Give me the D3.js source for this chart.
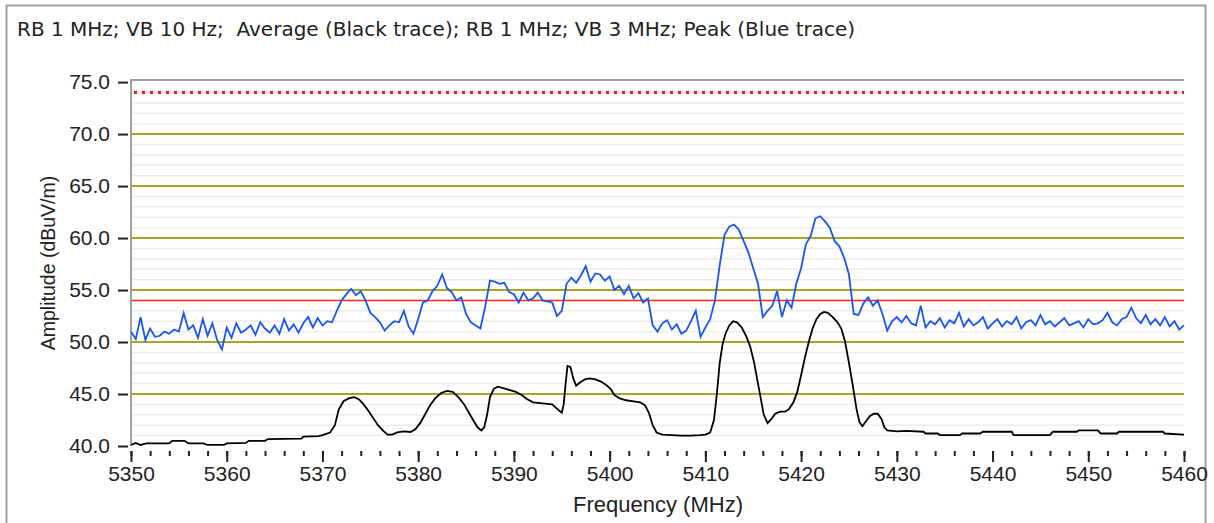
<!DOCTYPE html>
<html>
<head>
<meta charset="utf-8">
<script src="https://cdn.jsdelivr.net/npm/d3@7"></script>
<style>
  body { margin: 0; background: #fff; }
  text { font-family: Tahoma, "Liberation Sans", Arial, sans-serif; fill: #222; }
</style>
</head>
<body>
<div id="chart"></div>
<script>
const title = "RB 1 MHz; VB 10 Hz;  Average (Black trace); RB 1 MHz; VB 3 MHz; Peak (Blue trace)";
const yTicks = [40, 45, 50, 55, 60, 65, 70, 75];
const xTicks = [5350, 5360, 5370, 5380, 5390, 5400, 5410, 5420, 5430, 5440, 5450, 5460];
const limitPeak = 74;
const limitAvg = 54;

// average trace (black), [MHz, dBuV/m]
const avgTrace = [[5350,40.1],[5350.5,40.3],[5351,40.1],[5351.6,40.25],[5354,40.25],[5354.3,40.5],[5355.6,40.5],[5356,40.25],
  [5357.6,40.25],[5358,40.1],[5359.7,40.1],[5360,40.25],[5362,40.3],[5362.3,40.5],[5364,40.5],[5364.3,40.67],[5367.8,40.7],
  [5368,40.9],[5369.6,40.95],[5370,41.05],[5370.8,41.3],[5371.3,42],[5371.7,43.5],[5372.2,44.3],[5372.8,44.6],[5373.3,44.7],
  [5373.8,44.5],[5374.3,44],[5374.8,43.4],[5375.3,42.7],[5375.8,42],[5376.3,41.5],[5376.8,41.1],[5377.3,41.1],[5377.8,41.3],
  [5378.5,41.4],[5379.2,41.35],[5379.7,41.6],[5380.2,42.2],[5380.7,43],[5381.3,44],[5381.8,44.6],[5382.4,45.1],[5383,45.3],
  [5383.6,45.2],[5384.2,44.7],[5384.8,44],[5385.3,43.2],[5385.8,42.4],[5386.2,41.8],[5386.6,41.5],[5386.9,41.8],[5387.2,43],
  [5387.5,44.7],[5387.9,45.5],[5388.3,45.7],[5388.8,45.6],[5389.5,45.4],[5390.2,45.2],[5390.8,44.9],[5391.4,44.5],[5392,44.2],
  [5393,44.1],[5394,44.0],[5394.6,43.5],[5395,43.2],[5395.2,44],[5395.4,46],[5395.6,47.7],[5395.9,47.6],[5396.2,46.5],
  [5396.5,45.8],[5396.9,46.1],[5397.4,46.4],[5397.9,46.5],[5398.5,46.4],[5399.1,46.2],[5399.6,45.9],[5400.1,45.5],[5400.5,44.9],
  [5401,44.6],[5401.7,44.4],[5402.5,44.3],[5403.2,44.2],[5403.7,43.9],[5404.1,43.2],[5404.5,42],[5404.9,41.3],[5405.5,41.1],
  [5406.5,41.05],[5407.5,41.0],[5408.5,41.0],[5409.5,41.05],[5410,41.1],[5410.5,41.3],[5410.9,42.5],[5411.2,45],[5411.5,48],
  [5411.8,49.8],[5412.1,50.8],[5412.5,51.6],[5412.9,52],[5413.3,51.9],[5413.8,51.4],[5414.3,50.5],[5414.7,49.5],[5415.1,48],
  [5415.5,46],[5415.8,44.5],[5416.1,43],[5416.5,42.2],[5416.9,42.6],[5417.3,43.1],[5417.8,43.3],[5418.3,43.3],[5418.7,43.5],
  [5419.2,44.2],[5419.6,45.2],[5420,46.8],[5420.4,48.5],[5420.8,50],[5421.2,51.3],[5421.6,52.2],[5422,52.7],[5422.4,52.9],
  [5422.8,52.8],[5423.3,52.4],[5423.8,51.9],[5424.2,51.3],[5424.6,50],[5425,48],[5425.4,45.8],[5425.8,43.5],[5426.1,42.3],
  [5426.4,41.9],[5426.8,42.4],[5427.2,42.9],[5427.6,43.1],[5428,43.1],[5428.4,42.6],[5428.7,41.8],[5429,41.5],[5430,41.4],
  [5431,41.45],[5432.8,41.37],[5433,41.2],[5434.3,41.2],[5434.5,41.05],[5436.6,41.05],[5436.8,41.2],[5438.7,41.2],[5439,41.37],
  [5442,41.37],[5442.2,41.05],[5446,41.05],[5446.3,41.37],[5448.8,41.37],[5449,41.5],[5451,41.5],[5451.3,41.2],[5453,41.2],
  [5453.2,41.37],[5457.8,41.37],[5458,41.2],[5460,41.1]];

// peak trace (blue), one value every 0.5 MHz from 5350
const peakStart = 5350, peakStep = 0.5;
const peakTrace = [
  51.0,50.3, 52.4,50.2, 51.3,50.5, 50.6,51.0, 50.8,51.2, 51.0,52.8, 51.2,51.6, 50.4,52.2, 50.6,51.8, 50.2,49.3,
  51.4,50.4, 51.8,50.9, 51.2,51.6, 50.7,51.9, 51.3,50.9, 51.6,50.8, 52.2,51.1, 51.7,50.9, 51.8,52.4, 51.4,52.3,
  51.6,52.0, 51.9,53.0, 54.0,54.6, 55.1,54.5, 54.9,54.0, 52.8,52.4, 51.9,51.1, 51.6,52.0, 51.9,53.0, 51.5,50.8,
  52.2,53.8, 54.0,54.9, 55.4,56.5, 55.2,54.8, 54.0,54.3, 52.7,51.9, 51.6,51.3, 53.4,55.9, 55.8,55.6, 55.7,54.8,
  54.6,53.8, 54.75,54.0, 54.2,54.75, 54.0,53.9, 53.8,52.5, 53.0,55.6, 56.2,55.7, 56.4,57.3, 55.8,56.6, 56.5,55.9,
  56.3,55.0, 55.4,54.6, 55.4,54.2, 54.7,53.8, 54.2,51.6, 51.0,51.8, 52.1,51.2, 51.7,50.8, 51.1,52.0, 53.0,50.5,
  51.4,52.2, 54.0,57.4, 60.3,61.1, 61.3,60.8, 59.7,58.6, 57.1,55.6, 52.4,53.0, 53.5,54.9, 52.4,54.0, 53.3,55.6,
  57.1,59.4, 60.2,61.9, 62.1,61.6, 61.0,59.7, 59.2,58.1, 56.5,52.7, 52.6,53.7, 54.3,53.5, 54.0,52.7, 51.1,52.0,
  52.4,51.9, 52.5,51.8, 51.6,53.5, 51.4,52.0, 51.7,52.3, 51.4,52.1, 51.8,52.8, 51.5,52.2, 51.6,51.9, 52.4,51.3,
  51.8,52.2, 51.5,52.0, 51.7,52.4, 51.3,51.9, 52.1,51.6, 52.6,51.7, 52.0,51.5, 51.9,52.3, 51.6,51.8, 52.0,51.4,
  52.2,51.7, 51.8,52.1, 52.8,51.9, 51.6,52.2, 52.4,53.3, 52.3,51.8, 52.6,51.7, 52.2,51.6, 52.4,51.5, 52.0,51.2,
  51.6];

const width = 1214, height = 523;
const plotLeft = 131, plotRight = 1184, plotTop = 80, plotBottom = 446;

const svg = d3.select('#chart').append('svg')
    .attr('width', width).attr('height', height);

// outer frame
svg.append('rect')
    .attr('x', 6.5).attr('y', 5.5).attr('width', 1199).attr('height', 530)
    .attr('fill', 'none').attr('stroke', '#a0a0a0').attr('stroke-width', 2);

svg.append('text')
    .attr('x', 17).attr('y', 36)
    .attr('xml:space', 'preserve')
    .style('white-space', 'pre')
    .style('font-family', '"DejaVu Sans", sans-serif')
    .style('font-size', '20px')
    .text(title);

const xScale = d3.scaleLinear().domain([5350, 5460]).range([plotLeft, plotRight]);
const yScale = d3.scaleLinear().domain([40, 75.2]).range([plotBottom, plotTop]);

// minor grid every 1 dB
svg.append('g').selectAll('line')
    .data(d3.range(41, 76).filter(v => v % 5 != 0))
    .enter().append('line')
    .attr('x1', plotLeft).attr('x2', plotRight)
    .attr('y1', d => yScale(d)).attr('y2', d => yScale(d))
    .attr('stroke', '#ececec').attr('stroke-width', 1.5);

// major grid
svg.append('g').selectAll('line')
    .data(yTicks.filter(v => v > 40 && v < 75))
    .enter().append('line')
    .attr('x1', plotLeft).attr('x2', plotRight)
    .attr('y1', d => yScale(d)).attr('y2', d => yScale(d))
    .attr('stroke', '#a5a52a').attr('stroke-width', 2);

// limit lines
svg.append('line')
    .attr('x1', plotLeft + 3).attr('x2', plotRight)
    .attr('y1', yScale(limitPeak)).attr('y2', yScale(limitPeak))
    .attr('stroke', '#ff1010').attr('stroke-width', 3).attr('stroke-dasharray', '3,5');
svg.append('line')
    .attr('x1', plotLeft).attr('x2', plotRight)
    .attr('y1', yScale(limitAvg)).attr('y2', yScale(limitAvg))
    .attr('stroke', '#ff2a1a').attr('stroke-width', 1.5);

// plot border: left and top
svg.append('path')
    .attr('d', 'M' + plotLeft + ',' + plotBottom + 'V' + plotTop + 'H' + plotRight)
    .attr('fill', 'none').attr('stroke', '#a0a0a0').attr('stroke-width', 2);

// y axis
const yAxis = d3.axisLeft(yScale).tickValues(yTicks).tickFormat(d3.format('.1f'))
    .tickSize(10).tickPadding(8);
const gy = svg.append('g').attr('transform', 'translate(' + (plotLeft - 3) + ',0)').call(yAxis);
gy.select('.domain').remove();
gy.selectAll('line').attr('stroke', '#222').attr('stroke-width', 2);
gy.selectAll('text').style('font-size', '21px').attr('fill', '#222').attr('font-family', null);

// x axis: major every 10, minor every 2
const xAxisMinor = d3.axisBottom(xScale).tickValues(d3.range(5350, 5461, 2)).tickSize(5).tickFormat('');
const gxm = svg.append('g').attr('transform', 'translate(0,' + (plotBottom + 5) + ')').call(xAxisMinor);
gxm.select('.domain').remove();
gxm.selectAll('line').attr('stroke', '#222').attr('stroke-width', 2);

const xAxis = d3.axisBottom(xScale).tickValues(xTicks).tickFormat(d3.format('d'))
    .tickSize(11).tickPadding(4);
const gx = svg.append('g').attr('transform', 'translate(0,' + (plotBottom + 5) + ')').call(xAxis);
gx.select('.domain').remove();
gx.selectAll('line').attr('stroke', '#222').attr('stroke-width', 2);
gx.selectAll('text').style('font-size', '21px').attr('fill', '#222').attr('font-family', null);

// axis titles
svg.append('text')
    .attr('x', 658).attr('y', 512)
    .attr('text-anchor', 'middle')
    .style('font-size', '22px')
    .text('Frequency (MHz)');
svg.append('text')
    .attr('transform', 'translate(55,263) rotate(-90)')
    .attr('text-anchor', 'middle')
    .style('font-size', '19.5px')
    .text('Amplitude (dBuV/m)');

// traces
const line = d3.line().x(d => xScale(d[0])).y(d => yScale(d[1]));
const peakData = peakTrace.map((v, i) => [peakStart + i * peakStep, v]);

svg.append('path')
    .datum(peakData)
    .attr('d', line)
    .attr('fill', 'none').attr('stroke', '#1a55ee').attr('stroke-width', 1.8);

svg.append('path')
    .datum(avgTrace)
    .attr('d', line)
    .attr('fill', 'none').attr('stroke', '#000').attr('stroke-width', 1.8);
</script>
</body>
</html>
